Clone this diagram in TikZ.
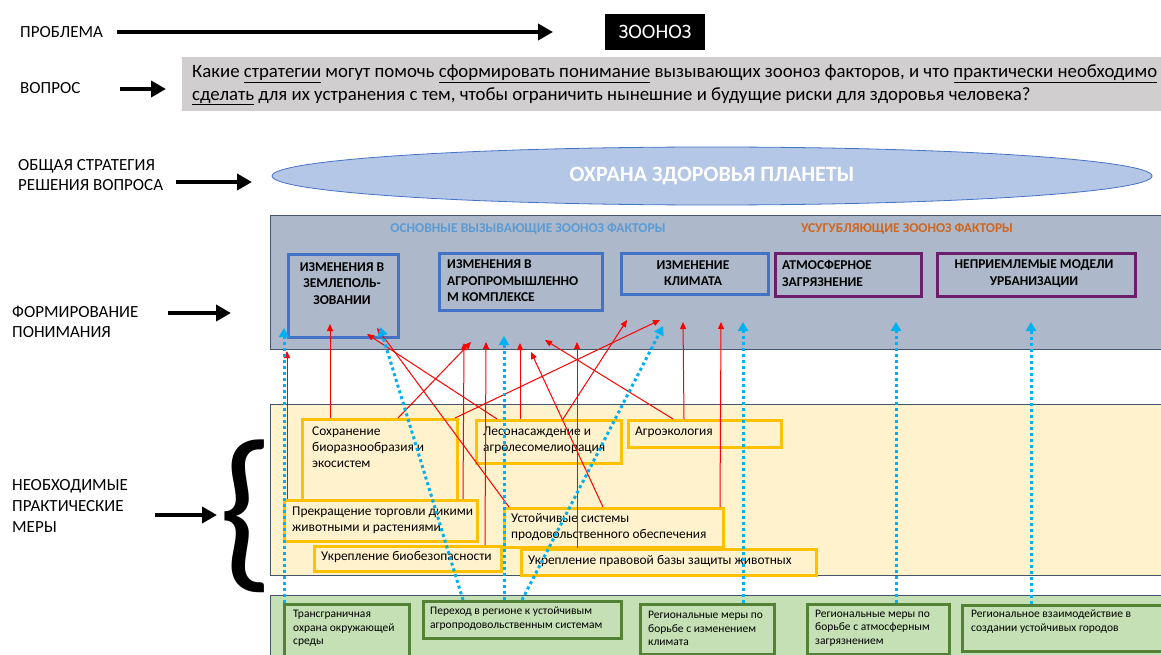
\documentclass[tikz,border=0pt]{standalone}
\usepackage{fontspec}
\setmainfont{Carlito}
\usetikzlibrary{arrows.meta,calc,shapes.geometric}

\definecolor{qgrey}{HTML}{D0CECE}
\definecolor{ellfill}{HTML}{B4C7E7}
\definecolor{elledge}{HTML}{4472C4}
\definecolor{bandgrey}{HTML}{ADB9CA}
\definecolor{bandedge}{HTML}{44546A}
\definecolor{factblue}{HTML}{4472C4}
\definecolor{factpurple}{HTML}{6B1F6B}
\definecolor{measfill}{HTML}{FFF2CC}
\definecolor{measedge}{HTML}{FFC000}
\definecolor{regfill}{HTML}{C5E0B4}
\definecolor{regedge}{HTML}{548235}
\definecolor{linkcyan}{HTML}{00B0F0}
\definecolor{linkred}{HTML}{FF0000}
\definecolor{headblue}{HTML}{5B9BD5}
\definecolor{headorange}{HTML}{D0661F}

\newcommand{\fsz}[2]{\fontsize{#1}{#2}\selectfont}

\begin{document}
\begin{tikzpicture}[x=1pt,y=-1pt,
  lbl/.style={font=\fsz{17}{20.7}, align=left, inner sep=0, anchor=west},
  bigarrow/.style={line width=4.5pt, -{Triangle[length=15pt,width=16pt]}},
  band/.style={draw=bandedge, line width=0.8pt, anchor=north west, inner sep=0},
  factbox/.style={draw=factblue, line width=3pt, anchor=north west, inner sep=0},
  facttext/.style={font=\bfseries\fsz{13.5}{16.5}, inner sep=0},
  measbox/.style={draw=measedge, fill=measfill, line width=3pt, anchor=north west, inner sep=0},
  meastext/.style={font=\fsz{13.4}{16}, align=left, inner sep=0, anchor=west},
  regbox/.style={draw=regedge, fill=regfill, line width=3pt, anchor=north west, inner sep=0},
  regtext/.style={font=\fsz{11.5}{13.7}, align=left, inner sep=0, anchor=west},
  redlink/.style={draw=linkred, line width=1pt, -{Triangle[length=7pt,width=6pt]}},
  cyanlink/.style={draw=linkcyan, line width=3pt, dash pattern=on 3pt off 3pt, -{Triangle[length=9pt,width=10pt]}}
]
\useasboundingbox (0,0) rectangle (1161,655);

% horizontal bands
\node[band, fill=bandgrey, minimum width=895, minimum height=134] (und) at (270,215) {};
\node[band, fill=measfill, minimum width=895, minimum height=171] (yel) at (270,404) {};
\node[band, fill=regfill, minimum width=895, minimum height=65] (reg) at (270,595) {};

% problem and question
\node[fill=black, text=white, font=\fsz{20.5}{24}, minimum width=100, minimum height=36, inner sep=0] (zoo) at (655,32) {ЗООНОЗ};
\node[fill=qgrey, anchor=north west, inner sep=0, minimum width=985, minimum height=54] (qbox) at (182,57) {};
\node[font=\fsz{18.8}{22.5}, align=left, inner sep=0, anchor=west] (qtext) at (192,85)
  {Какие \underline{стратегии} могут помочь \underline{сформировать понимание} вызывающих зооноз факторов, и что \underline{практически необходимо}\\
   \underline{сделать} для их устранения с тем, чтобы ограничить нынешние и будущие риски для здоровья человека?};

% overall strategy
\node[ellipse, draw=elledge, line width=0.8pt, fill=ellfill, minimum width=880, minimum height=58, inner sep=0,
      text=white, font=\bfseries\fsz{22}{26}] (planet) at (712,176) {ОХРАНА ЗДОРОВЬЯ ПЛАНЕТЫ};

% driving factors
\node[facttext, text=headblue] (hmain) at (528,229) {ОСНОВНЫЕ ВЫЗЫВАЮЩИЕ ЗООНОЗ ФАКТОРЫ};
\node[facttext, text=headorange] (hextra) at (907,229) {УСУГУБЛЯЮЩИЕ ЗООНОЗ ФАКТОРЫ};

\node[factbox, minimum width=110, minimum height=83] (land) at (287,253) {};
\node[facttext, align=center] (landt) at (342,283.5) {ИЗМЕНЕНИЯ В\\ЗЕМЛЕПОЛЬ-\\ЗОВАНИИ};
\node[factbox, minimum width=163, minimum height=57] (agri) at (438,252) {};
\node[facttext, align=left, anchor=west] (agrit) at (447,281) {ИЗМЕНЕНИЯ В\\АГРОПРОМЫШЛЕННО\\М КОМПЛЕКСЕ};
\node[factbox, minimum width=147, minimum height=41] (clim) at (620,252) {};
\node[facttext, align=center] (climt) at (693,273) {ИЗМЕНЕНИЕ\\КЛИМАТА};
\node[factbox, draw=factpurple, minimum width=146, minimum height=43] (air) at (774,252) {};
\node[facttext, align=left, anchor=west] (airt) at (782,273.5) {АТМОСФЕРНОЕ\\ЗАГРЯЗНЕНИЕ};
\node[factbox, draw=factpurple, minimum width=198, minimum height=43] (urb) at (936,252) {};
\node[facttext, align=center] (urbt) at (1034,273.5) {НЕПРИЕМЛЕМЫЕ МОДЕЛИ\\УРБАНИЗАЦИИ};

% practical measures
\node[measbox, minimum width=155, minimum height=87] (sokh) at (301,418) {};
\node[meastext] (sokht) at (312,447.5) {Сохранение\\биоразнообразия и\\экосистем};
\node[measbox, minimum width=145, minimum height=43] (les) at (475,419) {};
\node[meastext] (lest) at (483,440) {Лесонасаждение и\\агролесомелиорация};
\node[measbox, minimum width=153, minimum height=27] (agroeco) at (627,419) {};
\node[meastext] (agroecot) at (635,432) {Агроэкология};
\node[measbox, minimum width=193, minimum height=41] (trade) at (283,499) {};
\node[meastext] (tradet) at (292,520.5) {Прекращение торговли дикими\\животными и растениями};
\node[measbox, minimum width=219, minimum height=39] (food) at (503,507) {};
\node[meastext] (foodt) at (511,527.5) {Устойчивые системы\\продовольственного обеспечения};
\node[measbox, minimum width=187, minimum height=25] (biosec) at (313,545) {};
\node[meastext] (biosect) at (321,557) {Укрепление биобезопасности};
\node[measbox, minimum width=295, minimum height=26] (law) at (520,548) {};
\node[meastext] (lawt) at (528,561) {Укрепление правовой базы защиты животных};

% regional measures
\node[regbox, minimum width=125, minimum height=60] (g1) at (283,603) {};
\node[regtext] (g1t) at (293,628.5) {Трансграничная\\охрана окружающей\\среды};
\node[regbox, minimum width=198, minimum height=37] (g2) at (422,600) {};
\node[regtext] (g2t) at (430,618.5) {Переход в регионе к устойчивым\\агропродовольственным системам};
\node[regbox, minimum width=134, minimum height=50] (g3) at (639,603) {};
\node[regtext] (g3t) at (648,628.5) {Региональные меры по\\борьбе с изменением\\климата};
\node[regbox, minimum width=142, minimum height=50] (g4) at (806,603) {};
\node[regtext] (g4t) at (815,628) {Региональные меры по\\борьбе с атмосферным\\загрязнением};
\node[regbox, minimum width=210, minimum height=46] (g5) at (961,604) {};
\node[regtext] (g5t) at (971,621.5) {Региональное взаимодействие в\\создании устойчивых городов};

% red links: measures -> factors
\coordinate (rt1) at (287,351);
\coordinate (rt2) at (330,324);
\coordinate (rt3) at (367,334);
\coordinate (rt4) at (377,328);
\coordinate (rt5) at (471,342);
\coordinate (rt6) at (464,343);
\coordinate (rt7) at (486,342);
\coordinate (rt8) at (520,343);
\coordinate (rt9) at (531,352);
\coordinate (rt10) at (545,340);
\coordinate (rt11) at (577,342);
\coordinate (rt12) at (627,320);
\coordinate (rt13) at (660,320);
\coordinate (rt14) at (683,322);
\coordinate (rt15) at (721,322);
\draw[redlink] (trade.north -| 287,0) -- (rt1);
\draw[redlink] (sokh.north -| 330,0) -- (rt2);
\draw[redlink] (les.north -| 497,0) -- (rt3);
\draw[redlink] (food.north -| 509,0) -- (rt4);
\draw[redlink] (sokh.north -| 398,0) -- (rt5);
\draw[redlink] (trade.north -| 463,0) -- (rt6);
\draw[redlink] (biosec.north -| 485,0) -- (rt7);
\draw[redlink] (les.north -| 520,0) -- (rt8);
\draw[redlink] (food.north -| 603,0) -- (rt9);
\draw[redlink] (agroeco.north -| 673,0) -- (rt10);
\draw[redlink] (law.north -| 577,0) -- (rt11);
\draw[redlink] (les.north -| 563,0) -- (rt12);
\draw[redlink] (sokh.north -| 455,0) -- (rt13);
\draw[redlink] (agroeco.north -| 684,0) -- (rt14);
\draw[redlink] (food.north -| 720,0) -- (rt15);

% dotted links: regional measures -> factors
\coordinate (ct1) at (284,328);
\coordinate (ct2) at (380,327);
\coordinate (ct3) at (504,336);
\coordinate (ct4) at (663,326);
\coordinate (ct5) at (743,322);
\coordinate (ct6) at (896,322);
\coordinate (ct7) at (1031,322);
\draw[cyanlink] (g1.north -| 284,0) -- (ct1);
\draw[cyanlink] (g2.north -| 463,0) -- (ct2);
\draw[cyanlink] (g2.north -| 504,0) -- (ct3);
\draw[cyanlink] (g2.north -| 522,0) -- (ct4);
\draw[cyanlink] (g3.north -| 743,0) -- (ct5);
\draw[cyanlink] (g4.north -| 896,0) -- (ct6);
\draw[cyanlink] (g5.north -| 1031,0) -- (ct7);

% left-hand row labels and arrows
\node[lbl] (lprob) at (20,32) {ПРОБЛЕМА};
\coordinate (probtip) at (553,32);
\draw[bigarrow] ([xshift=14]lprob.east) -- (probtip);

\node[lbl] (lquest) at (20,88) {ВОПРОС};
\coordinate (qtail) at (120,89);
\coordinate (qtip) at (166,89);
\draw[bigarrow] (qtail) -- (qtip);

\node[lbl] (lstrat) at (18,175) {ОБЩАЯ СТРАТЕГИЯ\\РЕШЕНИЯ ВОПРОСА};
\coordinate (stip) at (252,182);
\draw[bigarrow] ($(stip -| lstrat.east)+(13,0)$) -- (stip);

\node[lbl] (lform) at (12,322) {ФОРМИРОВАНИЕ\\ПОНИМАНИЯ};
\coordinate (ftip) at (231,313);
\draw[bigarrow] ($(ftip -| lform.east)+(30,0)$) -- (ftip);

\node[lbl] (lmeas) at (12,506) {НЕОБХОДИМЫЕ\\ПРАКТИЧЕСКИЕ\\МЕРЫ};
\coordinate (mtip) at (217,515);
\draw[bigarrow] ($(mtip -| lmeas.east)+(27,0)$) -- (mtip);

\node[font=\fsz{178}{178}, inner sep=0] (brace) at (246,516) {\{};
\end{tikzpicture}
\end{document}
